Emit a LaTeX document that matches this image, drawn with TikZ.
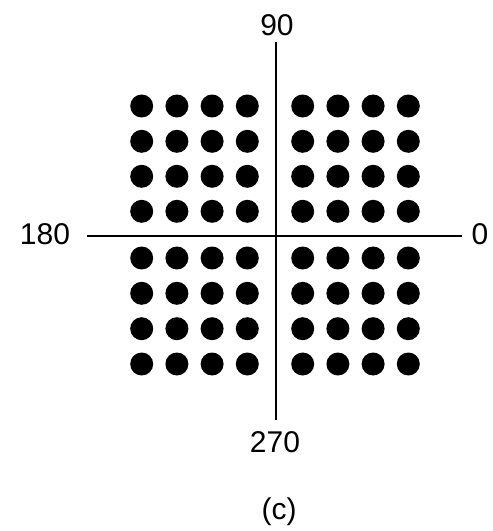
\documentclass[tikz,border=0pt]{standalone}
\usepackage{fontspec}
\setmainfont{Liberation Sans}
\begin{document}
\begin{tikzpicture}[x=1pt,y=-1pt,
  dot/.style={circle,fill=black,inner sep=0pt,minimum size=23pt},
  lbl/.style={font=\fontsize{30}{36}\selectfont,inner sep=0pt,text=black},
  axisline/.style={line width=1.6pt,draw=black}]
\useasboundingbox (0,0) rectangle (493,531);
\coordinate (top) at (276,42);
\coordinate (bottom) at (276,420);
\coordinate (left) at (87,236);
\coordinate (right) at (462,236);
\draw[axisline] (top) -- (bottom);
\draw[axisline] (left) -- (right);
\node[lbl] (l90) at (277,25) {90};
\node[lbl] (l180) at (45,234) {180};
\node[lbl] (l0) at (480,234) {0};
\node[lbl] (l270) at (275,442) {270};
\node[lbl] (lc) at (279,512) {(c)};
\foreach \x [count=\i] in {141.7,176.9,212.1,247.3,302.7,337.9,373.1,408.3}{
  \foreach \y [count=\j] in {106,141.3,176.3,211.3,258,293.3,328.7,364}{
    \node[dot] (d\i-\j) at (\x,\y) {};
  }
}
\end{tikzpicture}
\end{document}
